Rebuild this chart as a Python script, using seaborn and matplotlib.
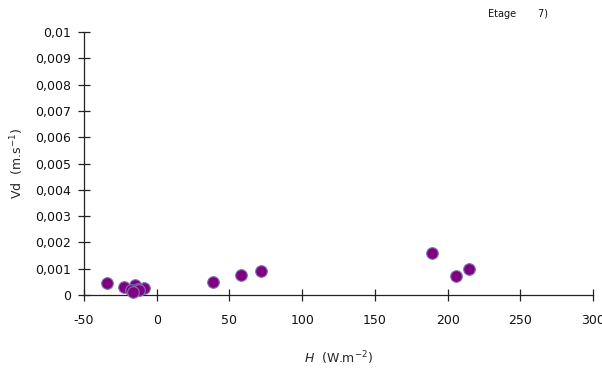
import matplotlib
matplotlib.use("Agg")
import matplotlib.pyplot as plt
import seaborn as sns
import pandas as pd

# data
H_values = [-34, -22.5, -15, -17.5, -9, -13, -12, -16, 38.5, 58, 71.5, 189, 205.5, 214.5]
Vd_values = [0.00045, 0.00030, 0.00037, 0.00018, 0.00026, 0.00022, 0.00020, 0.00010,
             0.00050, 0.00077, 0.00090, 0.00158, 0.00073, 0.00100]
x_ticks = [-50, 0, 50, 100, 150, 200, 250, 300]
x_tick_labels = ["-50", "0", "50", "100", "150", "200", "250", "300"]
y_ticks = [0, 0.001, 0.002, 0.003, 0.004, 0.005, 0.006, 0.007, 0.008, 0.009, 0.01]
y_tick_labels = ["0", "0,001", "0,002", "0,003", "0,004", "0,005", "0,006",
                 "0,007", "0,008", "0,009", "0,01"]

df = pd.DataFrame({"H": H_values, "Vd": Vd_values})

sns.set_theme(style="white")
plt.rcParams['font.family'] = ['DejaVu Sans']

fig = plt.figure(figsize=(6.02, 3.71), dpi=100)
ax = fig.add_axes([84/602, 76/371, 509/602, 263/371])

sns.scatterplot(data=df, x="H", y="Vd", ax=ax, s=70, color="#800080",
                edgecolor="#7a74b8", linewidth=0.8, zorder=3, clip_on=False)

ax.set_xlim(-50, 300)
ax.set_ylim(0, 0.01)
ax.set_xticks(x_ticks)
ax.set_xticklabels(x_tick_labels, fontsize=9)
ax.set_yticks(y_ticks)
ax.set_yticklabels(y_tick_labels, fontsize=9)

for s in ["top", "right"]:
    ax.spines[s].set_visible(False)
for s in ["left", "bottom"]:
    ax.spines[s].set_color("#222222")
    ax.spines[s].set_linewidth(0.9)
ax.tick_params(axis="both", which="major", bottom=True, left=True,
               direction="inout", length=9, width=0.9,
               colors="#222222", labelcolor="#111111")
ax.tick_params(axis="x", pad=9)
ax.tick_params(axis="y", pad=5)

ax.set_xlabel(r"$H$  (W.m$^{-2}$)", fontsize=9, labelpad=16)
ax.set_ylabel(r"Vd  (m.s$^{-1}$)", fontsize=9, labelpad=6)
ax.grid(False)

fig.text(488/602, 1 - 14/371, "Etage       7)", fontsize=7, va="center", ha="left", color="#111111")

fig.savefig("out.png", dpi=100)
